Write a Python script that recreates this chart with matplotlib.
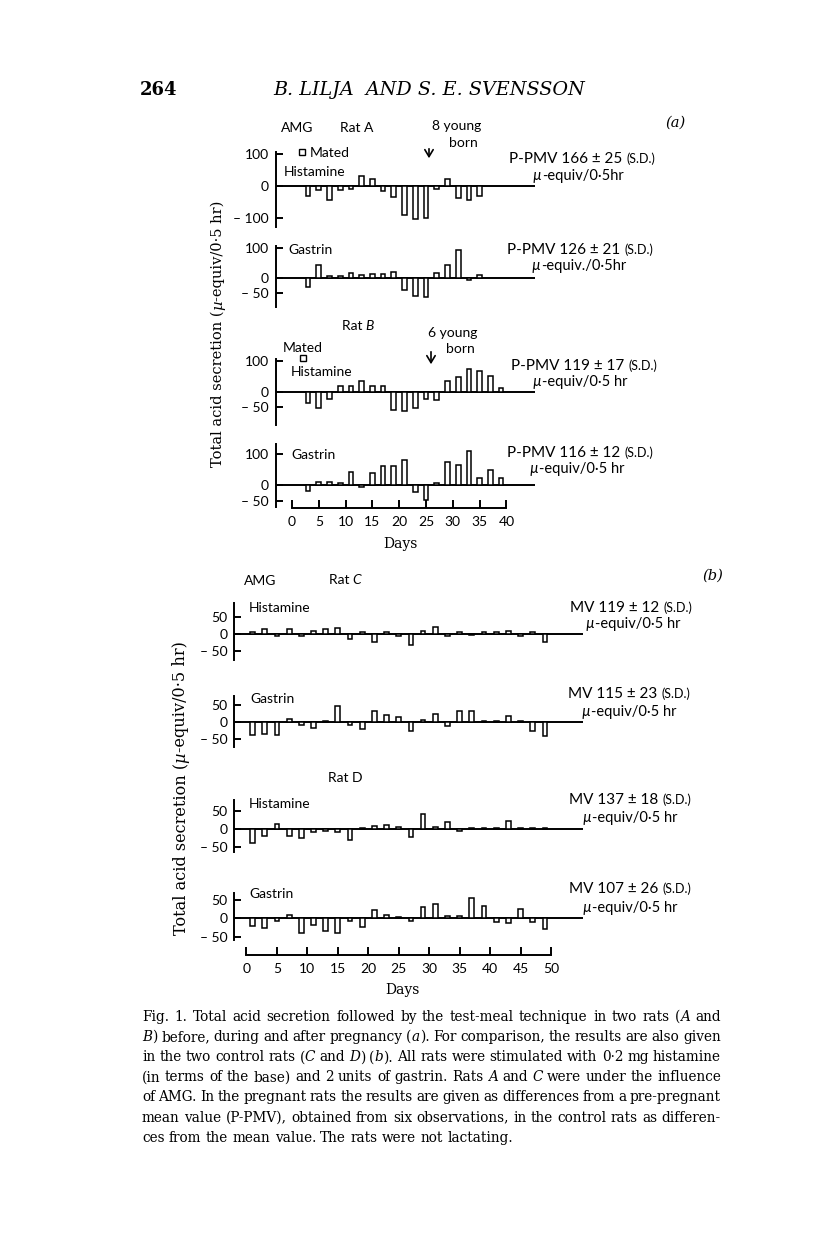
import matplotlib
matplotlib.use('Agg')
from matplotlib import pyplot as plt

W, H = 816, 1258
SANS = ['Lato', 'DejaVu Sans']
SERIF = ['DejaVu Serif']

# values (differences, mu-equiv/0.5 hr), one bar every second day
days_rat_a = list(range(3, 36, 2))
rat_a_histamine = [-30, -12, -45, -12, -9, 30, 23, -16, -35, -92, -102, -99, -8, 22, -38, -45, -31]
rat_a_gastrin = [-30, 42, 7, 7, 18, 10, 14, 14, 19, -41, -61, -63, 18, 43, 94, -8, 10]

days_rat_b = list(range(3, 40, 2))
rat_b_histamine = [-35, -51, -24, 18, 18, 36, 18, 18, -58, -62, -51, -23, -27, 33, 46, 73, 66, 51, 12]
rat_b_gastrin = [-20, 11, 9, 8, 42, -8, 40, 60, 60, 80, -22, -49, 6, 73, 63, 111, 22, 47, 23]

days_control = list(range(1, 50, 2))
rat_c_histamine = [5, 13, -7, 14, -6, 8, 15, 17, -17, 5, -25, 5, -7, -32, 8, 21, -7, 4, -3, 4, 4, 7, -7, 5, -25]
rat_c_gastrin = [-37, -33, -37, 10, -7, -17, 5, 49, -7, -21, 32, 21, 15, -27, 6, 23, -11, 33, 33, 5, 5, 18, 4, -25, -39]
rat_d_histamine = [-39, -19, 15, -18, -24, -7, -5, -8, -30, 4, 8, 11, 5, -21, 40, 5, 19, -5, 4, 4, 4, 22, 4, 4, 4]
rat_d_gastrin = [-20, -27, -7, 8, -39, -19, -34, -39, -7, -23, 23, 8, 3, -8, 31, 39, 7, 5, 56, 35, -9, -14, 25, -10, -28]

day_ticks_a = list(range(0, 41, 5))
day_ticks_b = list(range(0, 51, 5))

caption_lines = [
    "Fig. 1. Total acid secretion followed by the test-meal technique in two rats (*A* and",
    "*B*) before, during and after pregnancy (*a*). For comparison, the results are also given",
    "in the two control rats (*C* and *D*) (*b*). All rats were stimulated with 0\u00b72 mg histamine",
    "(in terms of the base) and 2 units of gastrin. Rats *A* and *C* were under the influence",
    "of AMG. In the pregnant rats the results are given as differences from a pre-pregnant",
    "mean value (P-PMV), obtained from six observations, in the control rats as differen-",
    "ces from the mean value. The rats were not lactating.",
]

fig = plt.figure(figsize=(W / 100, H / 100), dpi=100)
R = fig.canvas.get_renderer()


def fx(x):
    return x / W


def fy(y):
    return 1 - y / H


def width_of(s, **kw):
    t = fig.text(0, 0, s, **kw)
    w = t.get_window_extent(renderer=R).width
    t.remove()
    return w


def adv(s, **kw):
    # advance width incl. spaces (ink width of s+'l' minus the 'l')
    return width_of(s + 'l', **kw) - width_of('l', **kw)


def put(x, y, parts, ha='left', rot=0, common=None):
    # x, y in pixels from the top left, y is the baseline
    common = common or {}
    widths = [adv(s, **{**common, **kw}) for s, kw in parts]
    total = sum(widths)
    pos = {'left': 0, 'center': -total / 2, 'right': -total}[ha]
    for (s, kw), w in zip(parts, widths):
        if rot == 0:
            fig.text(fx(x + pos), fy(y), s, ha='left', va='baseline', **{**common, **kw})
        else:
            fig.text(fx(x), fy(y - pos), s, ha='left', va='baseline', rotation=90,
                     rotation_mode='anchor', **{**common, **kw})
        pos += w
    return total


def sans(x, y, s, size=10, ha='left', **kw):
    fig.text(fx(x), fy(y), s, ha=ha, va='baseline', family=SANS, fontsize=size, **kw)


def bar_panel(xmap, zero_px, ppu, ymax, ymin, days, values, yticks, ylabels, width):
    day0, ppd, x_left, x_right = xmap
    top = zero_px - ymax * ppu
    bottom = zero_px - ymin * ppu
    ax = fig.add_axes([fx(x_left), fy(bottom), (x_right - x_left) / W, (bottom - top) / H])
    ax.set_xlim((x_left - day0) / ppd, (x_right - day0) / ppd)
    ax.set_ylim(ymin, ymax)
    ax.axhline(0, color='black', lw=1.4, zorder=1)
    ax.bar(days, values, width=width, facecolor='white', edgecolor='black', lw=1.1, zorder=2)
    for side in ['top', 'right', 'bottom']:
        ax.spines[side].set_visible(False)
    ax.spines['left'].set_linewidth(1.4)
    ax.set_xticks([])
    ax.set_yticks(yticks)
    ax.set_yticklabels(ylabels, family=SANS, fontsize=10)
    ax.tick_params(axis='y', direction='in', length=5, width=1.4, pad=5)
    ax.patch.set_alpha(0)
    return ax


def day_axis(xmap, y_px, ticks):
    day0, ppd, x_left, x_right = xmap
    ax = fig.add_axes([fx(x_left), fy(y_px), (x_right - x_left) / W, 0.0005])
    ax.set_xlim((x_left - day0) / ppd, (x_right - day0) / ppd)
    for side in ['top', 'right', 'left']:
        ax.spines[side].set_visible(False)
    ax.spines['bottom'].set_linewidth(1.4)
    ax.spines['bottom'].set_bounds(ticks[0], ticks[-1])
    ax.set_yticks([])
    ax.set_xticks(ticks)
    ax.set_xticklabels([str(t) for t in ticks], family=SANS, fontsize=10)
    ax.tick_params(axis='x', direction='in', length=6, width=1.4, pad=6)
    ax.patch.set_alpha(0)
    return ax


def arrow(x, y1, y2):
    fig.add_artist(matplotlib.patches.FancyArrowPatch(
        (fx(x), fy(y1)), (fx(x), fy(y2)), transform=fig.transFigure,
        arrowstyle='->,head_length=5,head_width=3', lw=1.2, color='black'))


def mated(ax, day, level):
    ax.plot([day], [level], marker='s', ms=4.5, mfc='white', mec='black', mew=1.0, clip_on=False)


def unit_label(x, y, s):
    mu = width_of('\u00b5', family=SANS, fontsize=10.5, style='italic')
    fig.text(fx(x), fy(y), '\u00b5', ha='left', va='baseline', family=SANS, fontsize=10.5, style='italic')
    fig.text(fx(x + mu + 0.5), fy(y), s, ha='left', va='baseline', family=SANS, fontsize=10.5)


def mean_label(x, y, s):
    put(x, y, [(s + ' ', {'fontsize': 11}), ('(S.D.)', {'fontsize': 9})], common={'family': SANS})


def caption(left, right, top, step, size):
    common = {'family': SERIF, 'fontsize': size}
    space = width_of('n n', **common) - width_of('nn', **common)
    for i, line in enumerate(caption_lines):
        words = []
        for word in line.split(' '):
            segs = word.split('*')
            parts = [(s, {'style': 'italic'} if k % 2 else {}) for k, s in enumerate(segs) if s]
            words.append(parts)
        wws = [sum(adv(s, **{**common, **kw}) for s, kw in parts) for parts in words]
        if i < len(caption_lines) - 1:
            gap = (right - left - sum(wws)) / (len(words) - 1)
        else:
            gap = space
        x = left
        y = top + i * step
        for parts, ww in zip(words, wws):
            put(x, y, parts, common=common)
            x += ww + gap


def ylabel(x, y_bottom, length):
    parts = [('Total acid secretion (', {}), ('\u00b5', {'style': 'italic'}), ('-equiv/0\u00b75 hr)', {})]
    natural = sum(adv(s, family=SERIF, fontsize=10, **kw) for s, kw in parts)
    size = 10 * length / natural
    put(x, y_bottom, parts, rot=90, common={'family': SERIF, 'fontsize': size})


def panel_a():
    xmap = (292, 5.36, 276, 535)
    t100 = [100, 0, -100]
    t50 = [100, 0, -50]
    l100 = ['100', '0', '\u2013 100']
    l50 = ['100', '0', '\u2013 50']
    ax1 = bar_panel(xmap, 186, 0.32, 106, -128, days_rat_a, rat_a_histamine, t100, l100, 0.88)
    bar_panel(xmap, 278, 0.30, 107, -95, days_rat_a, rat_a_gastrin, t50, l50, 0.88)
    ax3 = bar_panel(xmap, 391.7, 0.31, 105, -107, days_rat_b, rat_b_histamine, t50, l50, 0.88)
    bar_panel(xmap, 485, 0.31, 132, -70, days_rat_b, rat_b_gastrin, t50, l50, 0.88)
    day_axis(xmap, 508, day_ticks_a)

    mated(ax1, 1.8, 105)
    mated(ax3, 2.0, 108)

    sans(297, 132, 'AMG', ha='center')
    sans(357, 132, 'Rat A', ha='center')
    sans(457, 130, '8 young', ha='center')
    sans(463, 147, 'born', ha='center')
    arrow(429, 146, 161)
    sans(310, 157, 'Mated')
    sans(284, 176, 'Histamine')
    mean_label(509, 163, 'P-PMV 166 \u00b1 25')
    unit_label(533, 180, '-equiv/0\u00b75hr')

    sans(288, 254, 'Gastrin')
    mean_label(507, 254, 'P-PMV 126 \u00b1 21')
    unit_label(532, 270, '-equiv./0\u00b75hr')

    put(358, 330, [('Rat ', {}), ('B', {'style': 'italic'})], ha='center',
        common={'family': SANS, 'fontsize': 10})
    sans(453, 337, '6 young', ha='center')
    sans(460, 353, 'born', ha='center')
    arrow(431, 349, 367)
    sans(283, 352, 'Mated')
    sans(291, 376, 'Histamine')
    mean_label(511, 370, 'P-PMV 119 \u00b1 17')
    unit_label(533, 386, '-equiv/0\u00b75 hr')

    sans(291, 459, 'Gastrin')
    mean_label(507, 457, 'P-PMV 116 \u00b1 12')
    unit_label(530, 473, '-equiv/0\u00b75 hr')

    fig.text(fx(675), fy(127), '(a)', ha='center', va='baseline', family=SERIF, fontsize=10.5, style='italic')
    fig.text(fx(400), fy(548), 'Days', ha='center', va='baseline', family=SERIF, fontsize=10)
    ylabel(222, 467, 267)


def panel_b():
    xmap = (246.5, 6.09, 234.5, 583)
    t = [50, 0, -50]
    lab = ['50', '0', '\u2013 50']
    bar_panel(xmap, 633.7, 0.34, 89, -77, days_control, rat_c_histamine, t, lab, 0.78)
    bar_panel(xmap, 722.3, 0.34, 77, -72, days_control, rat_c_gastrin, t, lab, 0.78)
    bar_panel(xmap, 829, 0.365, 80, -62, days_control, rat_d_histamine, t, lab, 0.78)
    bar_panel(xmap, 918.3, 0.365, 70, -59, days_control, rat_d_gastrin, t, lab, 0.78)
    day_axis(xmap, 955, day_ticks_b)

    sans(260, 585, 'AMG', ha='center')
    put(345, 584, [('Rat ', {}), ('C', {'style': 'italic'})], ha='center',
        common={'family': SANS, 'fontsize': 10})
    fig.text(fx(713), fy(580), '(b)', ha='center', va='baseline', family=SERIF, fontsize=10.5, style='italic')

    sans(249, 612, 'Histamine')
    mean_label(570, 612, 'MV 119 \u00b1 12')
    unit_label(586, 628, '-equiv/0\u00b75 hr')

    sans(250, 703, 'Gastrin')
    mean_label(568, 698, 'MV 115 \u00b1 23')
    unit_label(582, 716, '-equiv/0\u00b75 hr')

    sans(345, 782, 'Rat D', ha='center')
    sans(249, 808, 'Histamine')
    mean_label(569, 804, 'MV 137 \u00b1 18')
    unit_label(583, 822, '-equiv/0\u00b75 hr')

    sans(249, 898, 'Gastrin')
    mean_label(569, 893, 'MV 107 \u00b1 26')
    unit_label(583, 912, '-equiv/0\u00b75 hr')

    fig.text(fx(402), fy(994), 'Days', ha='center', va='baseline', family=SERIF, fontsize=10)
    ylabel(185, 935, 295)


def header():
    fig.text(fx(140), fy(95), '264', ha='left', va='baseline', family=SERIF, fontsize=13, weight='bold')
    title = 'B. LILJA  AND S. E. SVENSSON'
    natural = width_of(title, family=SERIF, fontsize=13, style='italic')
    size = 13 * 312 / natural
    fig.text(fx(273), fy(95), title, ha='left', va='baseline', family=SERIF, fontsize=size, style='italic')


def main():
    plt.rcParams['font.family'] = SANS
    header()
    panel_a()
    panel_b()
    caption(142, 721, 1021, 20.1, 9.8)
    fig.savefig('out.png', dpi=100, facecolor='white')


if __name__ == '__main__':
    main()
